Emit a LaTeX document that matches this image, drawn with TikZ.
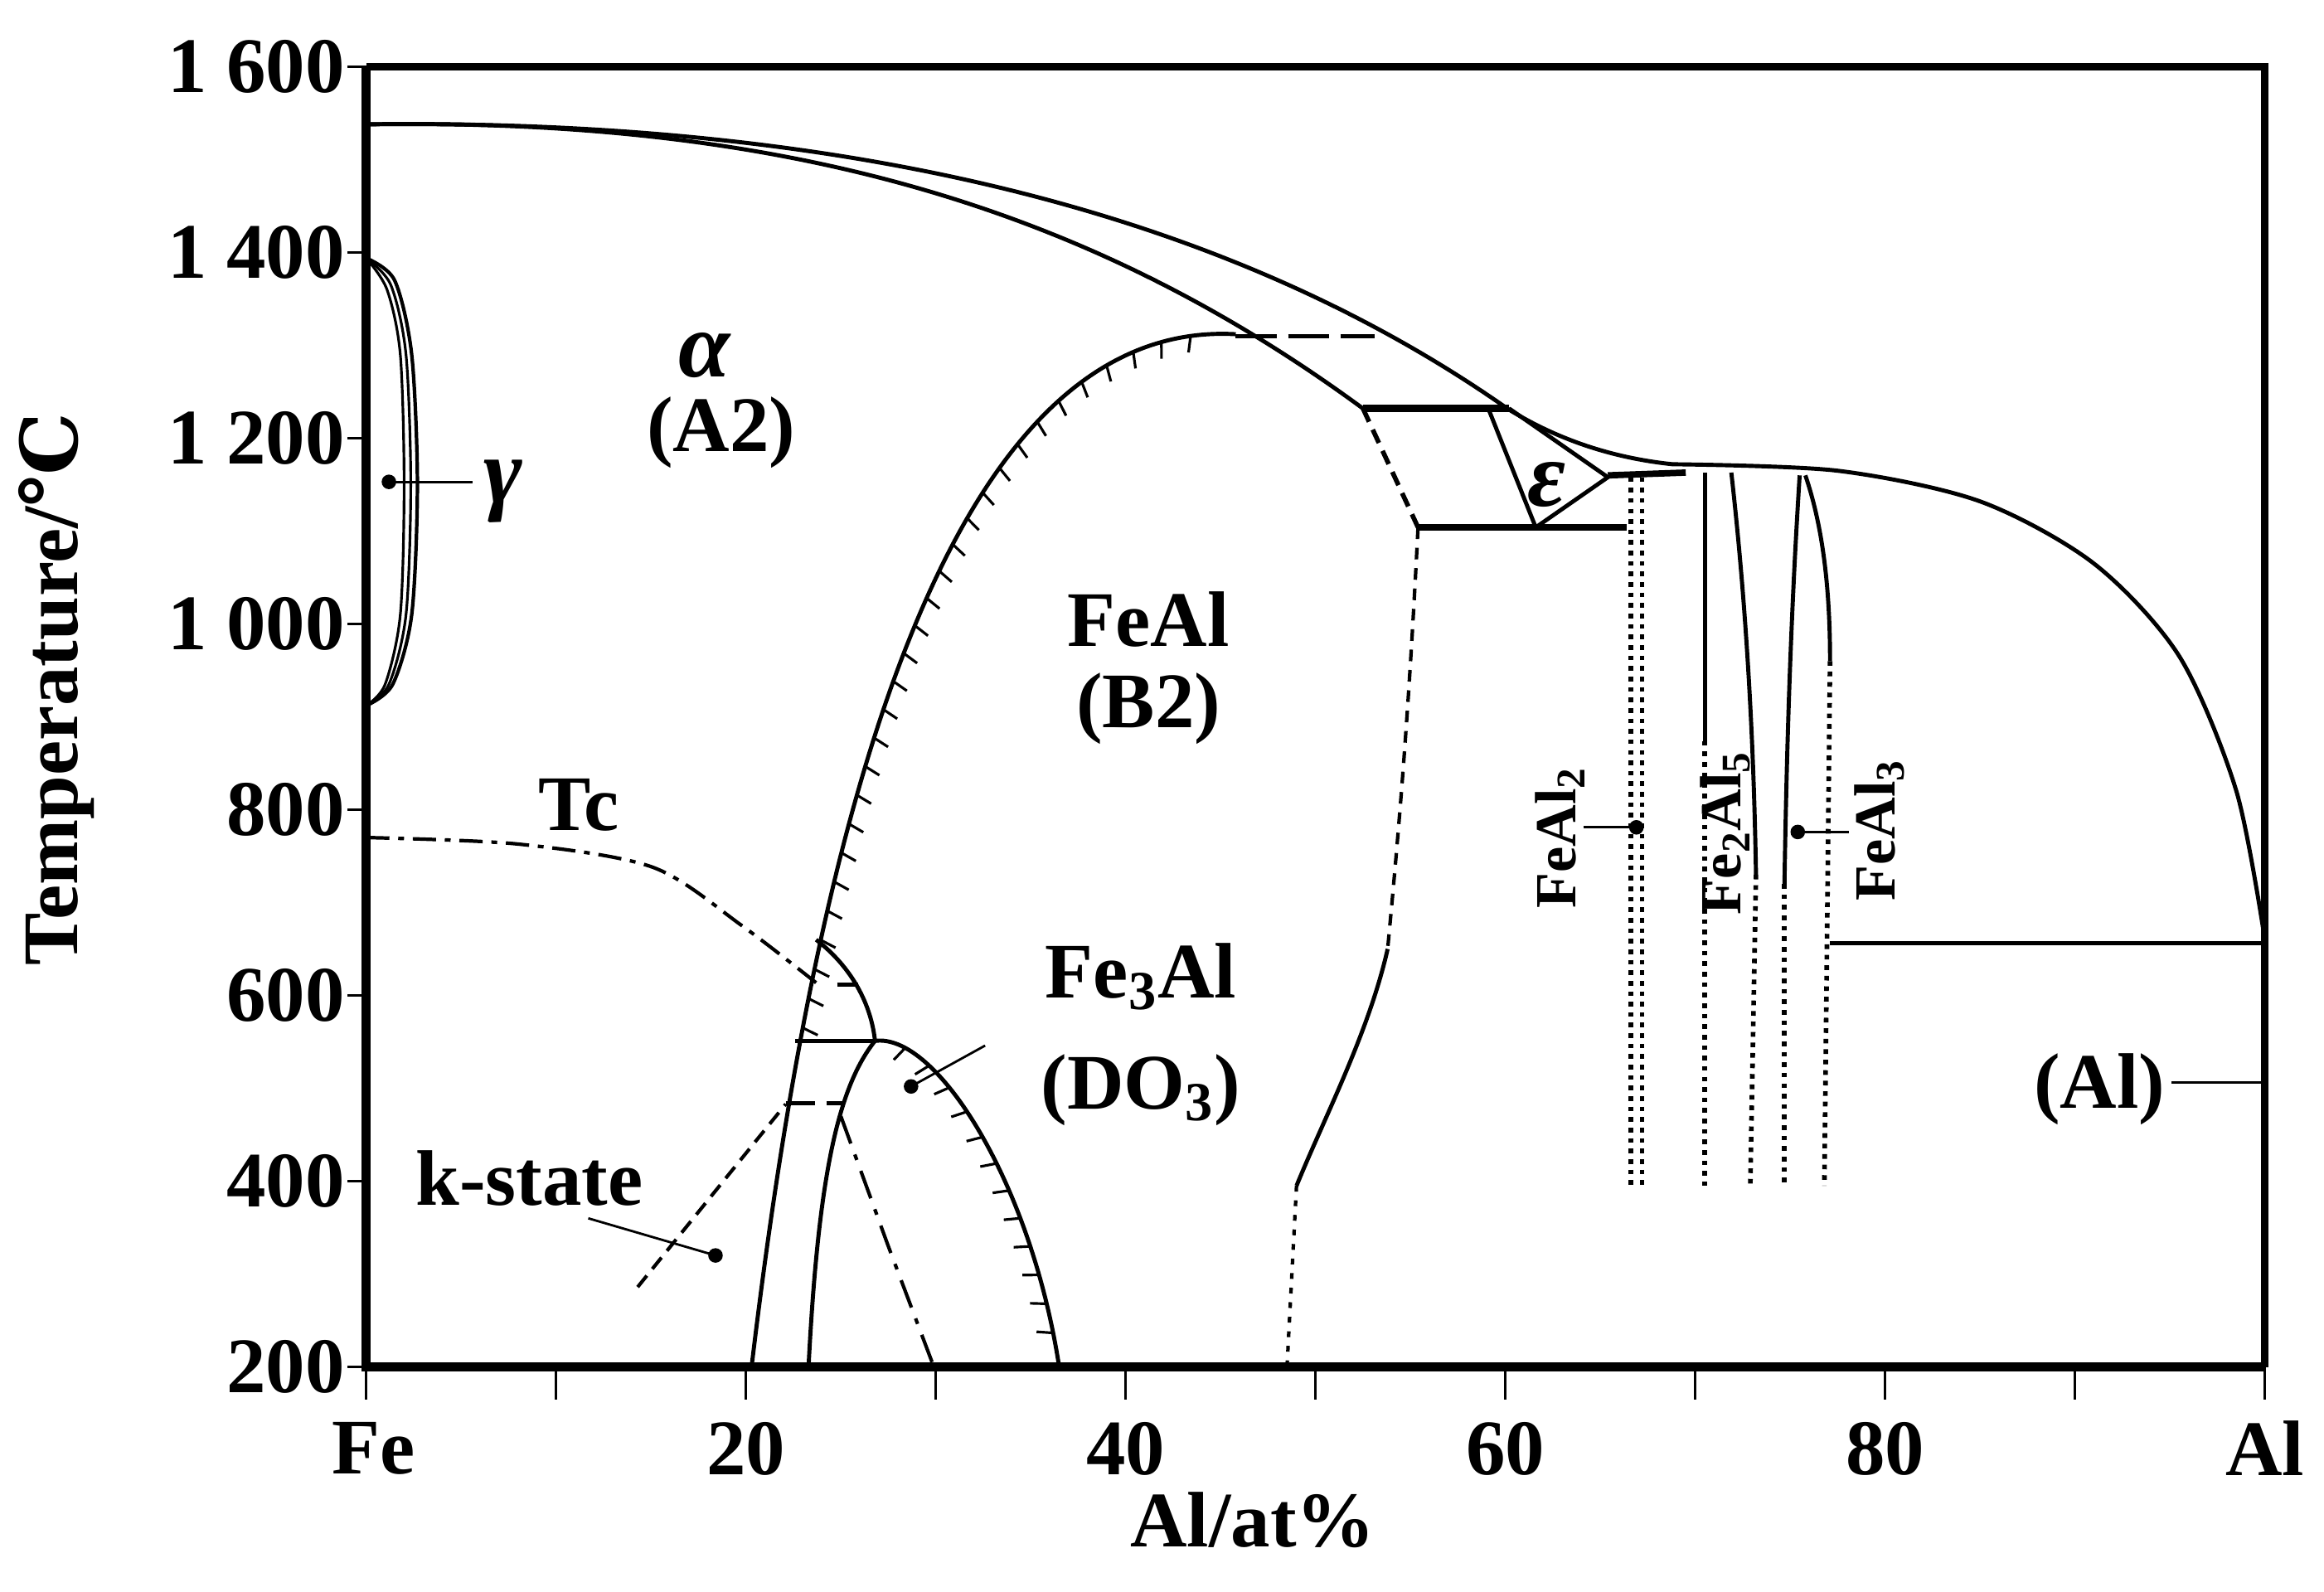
\documentclass[tikz,border=0pt]{standalone}
\usepackage{fontspec}
\setmainfont{Liberation Serif}
\newfontfamily\dvs{DejaVu Serif}
\usetikzlibrary{decorations.markings}
\begin{document}
\begin{tikzpicture}
\useasboundingbox (0,0) rectangle (28.03,19.19);
\tikzset{
  ph/.style={line width=1.4pt},
  hatch/.style={ph,postaction={decorate,decoration={markings,
     mark=between positions #1 step 0.36cm with {\draw[line width=0.9pt] (0pt,0pt)--(-1.5pt,-5.5pt);}}}},
  dotl/.style={line width=1.6pt,dash pattern=on 1.6pt off 2pt},
  lbl/.style={font=\fontsize{27}{30}\selectfont\bfseries,inner sep=0pt},
  glbl/.style={font=\fontsize{32}{34}\selectfont\bfseries\itshape,inner sep=0pt},
  slbl/.style={font=\fontsize{20}{22}\selectfont\bfseries,inner sep=0pt,rotate=90},
  lead/.style={line width=0.8pt},
  dotend/.style={fill,circle,inner sep=0pt,minimum size=5pt}
}
\begin{scope}[x=0.229cm,y=0.0112cm,shift={(4.416cm,0.465cm)}]
% frame
\draw[line width=2.4pt] (0,1600) -- (100,1600) -- (100,200);
\draw[line width=3pt] (0,1600) -- (0,200) -- (100,200);
\foreach \t in {200,400,...,1600} \draw[line width=1pt] (0,\t) -- (-1,\t);
\foreach \a in {0,10,...,100} \draw[line width=1pt] (\a,200) -- (\a,165);
\foreach \t/\s in {1600/1 600,1400/1 400,1200/1 200,1000/1 000,800/800,600/600,400/400,200/200}
  \node[lbl,anchor=east] (t\t) at (-1.1,\t) {\s};
\node[lbl] (xfe) at (0.4,112) {Fe};
\foreach \a in {20,40,60,80} \node[lbl] (x\a) at (\a,112) {\a};
\node[lbl] (xal) at (100,112) {Al};
\node[lbl] (xlab) at (46.7,35) {Al/at\%};
\node[lbl,rotate=90] (ylab) at (-16.3,930) {Temperature/{\dvs ℃}};
% liquidus / solidus
\draw[ph] (0,1538) .. controls (28,1545) and (47,1420) .. (60.1,1232) .. controls (63,1195) and (66,1178) .. (68.8,1172);
\draw[ph] plot[smooth] coordinates {(68.8,1172) (77.5,1165) (85,1132) (91,1065) (95.5,965) (98.5,820) (100,660)};
\draw[ph] (0,1538) .. controls (22,1545) and (38,1450) .. (52.5,1232);
\draw[line width=1.6pt,dash pattern=on 14pt off 4pt] (45.8,1310) -- (53.1,1310);
\draw[line width=2.6pt] (52.5,1232) -- (60.2,1232);
% epsilon
\draw[ph] (59.1,1232) -- (61.6,1104) -- (65.4,1158) -- (60.2,1232);
\draw[line width=2.2pt] (65.4,1160) -- (69.5,1163);
\draw[line width=2.2pt] (55.4,1104) -- (66.4,1104);
\node[glbl] (eps) at (62.2,1150) {ε};
% B2 boundary on Al side
\draw[line width=1.6pt,dash pattern=on 5pt off 3pt] (52.5,1232) -- (55.4,1104);
\draw[line width=1.2pt,dash pattern=on 4pt off 3pt] (55.4,1104) .. controls (54.9,900) and (54.4,780) .. (53.8,650);
\draw[ph] (53.8,650) .. controls (52.8,560) and (50.5,470) .. (49,395);
\draw[line width=1.2pt,dash pattern=on 2pt off 3pt] (49,395) -- (48.5,200);
% FeAl2 and others
\draw[dotl] (66.6,1158) -- (66.6,395);
\draw[dotl] (67.2,1158) -- (67.2,395);
\draw[ph] (70.5,1163) -- (70.5,874);
\draw[dotl] (70.5,874) -- (70.5,395);
\draw[ph] (71.9,1163) .. controls (72.8,1000) and (73.1,850) .. (73.2,730);
\draw[dotl] (73.2,730) -- (72.9,395);
\draw[ph] (75.5,1160) .. controls (75.0,1000) and (74.8,850) .. (74.7,720);
\draw[dotl] (74.7,720) -- (74.7,395);
\draw[ph] (75.8,1160) .. controls (76.8,1100) and (77.1,1030) .. (77.1,960);
\draw[dotl] (77.1,960) -- (76.8,395);
\draw[ph] (77.1,656) -- (100,656);
% gamma loop
\draw[line width=1.2pt] plot[smooth] coordinates {(0,1394) (1.5,1370) (2.4,1290) (2.7,1150) (2.4,1010) (1.4,935) (0,912)};
\draw[line width=0.9pt] plot[smooth] coordinates {(0,1394) (1.3,1365) (2.1,1290) (2.35,1150) (2.1,1010) (1.2,935) (0,912)};
\draw[line width=0.9pt] plot[smooth] coordinates {(0,1394) (1.1,1360) (1.8,1290) (2.0,1150) (1.8,1010) (1.0,935) (0,912)};
\node[glbl] (gam) at (7.2,1143) {γ};
\coordinate (gd) at (1.2,1153);
\draw[lead] (gd) -- (5.6,1153);
\node[dotend] at (gd) {};
% Tc
\draw[line width=1.2pt,dash pattern=on 8pt off 3pt on 2pt off 3pt] plot[smooth] coordinates {(0,770) (8,763) (15.1,738) (19.8,675) (23.8,612)};
\draw[line width=1.4pt] (24.8,612) -- (25.9,612);
\node[lbl] (tc) at (11.2,805) {Tc};
% A2/B2 boundary
\draw[hatch=0.28 and 0.97] (20.3,200) .. controls (23.5,750) and (30,1330) .. (45.8,1312);
% lens
\draw[ph] (23.7,660) .. controls (25.6,630) and (26.6,590) .. (26.8,551);
\draw[ph] (22.6,551) -- (26.8,551);
\draw[ph] (23.3,200) .. controls (23.8,400) and (24.8,500) .. (26.8,551);
\draw[line width=1.4pt,dash pattern=on 10pt off 4pt] (22.1,484) -- (25.2,484);
\draw[line width=1.2pt,dash pattern=on 10pt off 4pt on 2pt off 4pt] (25.0,470) -- (27.5,330) -- (29.9,200);
% DO3 dome
\draw[hatch=0.08 and 0.97] (26.8,551) .. controls (30,560) and (35,400) .. (36.5,200);
% k-state
\draw[line width=1.2pt,dash pattern=on 5pt off 3pt] (14.3,286) -- (22.1,483);
\node[lbl] (ks) at (8.6,403) {k-state};
\coordinate (kd) at (18.4,320);
\draw[lead] (11.7,360) -- (kd);
\node[dotend] at (kd) {};
% labels
\node[glbl] (alpha) at (17.8,1289) {α};
\node[lbl] (a2) at (18.7,1206) {(A2)};
\node[lbl] (feal) at (41.2,1005) {FeAl};
\node[lbl] (b2) at (41.2,909) {(B2)};
\node[lbl] (fe3al) at (40.8,620) {Fe\textsubscript{3}Al};
\node[lbl] (do3) at (40.8,498) {(DO\textsubscript{3})};
\coordinate (fd) at (28.7,502);
\draw[lead] (32.6,546) -- (fd);
\node[dotend] at (fd) {};
\node[lbl] (alp) at (91.3,499) {(Al)};
\draw[lead] (95.1,506) -- (100,506);
\node[slbl] (feal2) at (62.9,770) {FeAl\textsubscript{2}};
\coordinate (f2d) at (66.9,781);
\draw[lead] (64.1,781) -- (f2d);
\node[dotend] at (f2d) {};
\node[slbl] (fe2al5) at (71.6,775) {Fe\textsubscript{2}Al\textsubscript{5}};
\node[slbl] (feal3) at (79.7,778) {FeAl\textsubscript{3}};
\coordinate (f3d) at (75.4,776);
\draw[lead] (78.1,776) -- (f3d);
\node[dotend] at (f3d) {};
\end{scope}
\end{tikzpicture}
\end{document}
